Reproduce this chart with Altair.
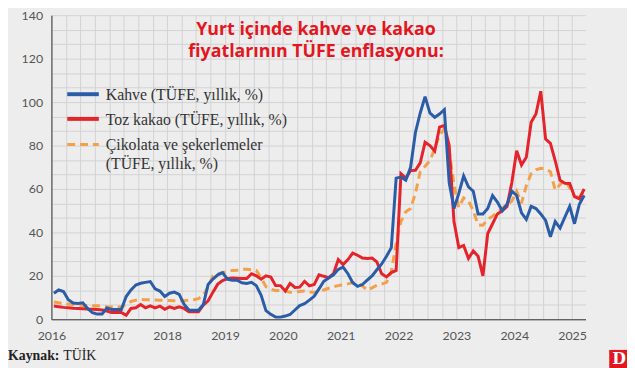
import altair as alt
import pandas as pd
import numpy as np

# Monthly series, Jan 2016 .. Mar 2025 (annual CPI change, %)
kahve = [
    12, 13.5, 12.8, 9, 7.5, 7.3, 7.6, 5, 3, 2.4,
    2.4, 5.2, 4.5, 4.5, 4.5, 10.5, 13.5, 15.8, 16.6, 17,
    17.4, 14, 13, 10.5, 12, 12.5, 11.5, 7, 4.3, 4.2,
    4.2, 6.8, 16, 18.5, 20.5, 21.5, 18.5, 18, 18, 16.8,
    16.5, 17, 15.5, 11, 4, 2.3, 1, 1, 1.5, 2.2,
    4.3, 6.3, 7.2, 8.8, 10.6, 14, 17.5, 19, 20.5, 23,
    24, 21, 16.8, 15.2, 16, 18, 20, 22.8, 25.5, 29,
    33, 65, 65.5, 64, 70, 86, 95, 102.5, 95, 93,
    94.5, 96.5, 63, 51, 58, 66, 61, 59, 48.5, 48.5,
    51, 57, 54, 50, 53, 59, 57, 49, 46, 52,
    51, 48.5, 45.5, 38, 45, 42, 47, 52, 44, 53, 57,
]
toz_kakao = [
    6.1, 5.8, 5.5, 5.3, 5.1, 5, 4.9, 4.7, 4.6, 4.5,
    4.3, 3.8, 3.1, 3.1, 3.1, 1.8, 5, 5.3, 6.8, 5.3,
    6.2, 5.3, 6.1, 4.6, 5.7, 5, 5.7, 5, 3.5, 3.5,
    3.5, 6.5, 8.5, 12.5, 16.2, 17.8, 18.7, 19, 18.9, 18.8,
    18.8, 21, 20, 18.5, 20, 19.5, 15.5, 15.5, 13, 16.5,
    14.7, 14.8, 17.5, 15.4, 16, 20.5, 19.8, 19.2, 21, 27.5,
    25.2, 27.5, 30.5, 29.5, 28.2, 28, 28.2, 26.4, 21, 19.5,
    21.5, 22.5, 67, 65, 68.5, 68.6, 72, 81.5, 80, 77.5,
    88.5, 89.3, 80, 45, 33, 34, 28, 31.5, 29, 20,
    39.5, 44, 48.5, 50, 52, 63, 77.6, 71, 74.6, 90.7,
    94.5, 105, 83, 81, 73, 64, 62.6, 62.5, 56.5, 55.5, 60,
]
cikolata = [
    8, 7.6, 7.3, 7, 6.8, 6.6, 6.4, 6.3, 6.2, 6.2,
    6, 5.8, 5.7, 5.7, 5.8, 6.8, 8.2, 8.8, 9.1, 9,
    9, 8.9, 8.8, 8.7, 8.7, 8.5, 8.4, 8.6, 8.8, 9,
    9.5, 11, 15, 19.9, 21, 21.5, 21.9, 22.5, 22.6, 23,
    23, 22.8, 22.5, 19, 15, 13.8, 13.2, 13.3, 13, 12.4,
    12.5, 12.8, 13, 12.6, 12.4, 13, 13.5, 14.3, 15, 15.5,
    16, 16.3, 16.9, 16.5, 15.4, 13.4, 14.5, 15.7, 16.2, 17,
    22, 35, 45, 49.5, 51, 58, 68, 70.5, 73, 78.5,
    85, 87.5, 77.6, 62, 51.5, 55.9, 54.5, 50, 43.5, 43.3,
    46, 47.5, 49.3, 51, 53, 54.4, 59, 53.5, 61.5, 67,
    68.8, 69.5, 69.3, 68, 59.5, 62, 64, 60.5, 56.6, 56.2, 57.5,
]
series_names = ["Kahve (TÜFE, yıllık, %)", "Toz kakao (TÜFE, yıllık, %)",
                "Çikolata ve şekerlemeler", "(TÜFE, yıllık, %)"]
year_ticks = list(range(2016, 2026))
y_ticks = list(range(0, 141, 20))
title_lines = ["Yurt içinde kahve ve kakao", "fiyatlarının TÜFE enflasyonu:"]
source_bold = "Kaynak:"
source_text = "TÜİK"

n = len(kahve)
t = [2016 + (i + 0.5) / 12 for i in range(n)]

W, H = 541, 308
PX_PER_YEAR = 58.6
x_scale = alt.Scale(domain=[2016, 2016 + W / PX_PER_YEAR], nice=False, zero=False)
y_scale = alt.Scale(domain=[0, 140], nice=False, zero=False)

# graph-paper grid: quarter-year and 20/3-unit steps; labels only on years / multiples of 20
x_grid_vals = [year_ticks[0] + k * 0.25 for k in range(4 * (year_ticks[-1] - year_ticks[0]) + 1)]
y_grid_vals = [round(k * 20 / 3, 6) for k in range(3 * 7 + 1)]
GRID = "#d2d2d2"

x_axis = alt.Axis(values=x_grid_vals, title=None, grid=True, gridColor=GRID, gridWidth=1,
                  ticks=False, labelExpr="datum.value % 1 == 0 ? '' + datum.value : ''",
                  labelPadding=10, labelFontSize=12.5, labelFont="Lato", labelColor="#555555",
                  domainColor="#333333", domainWidth=1, labelFlush=False)
y_axis = alt.Axis(values=y_grid_vals, title=None, grid=True, gridColor=GRID, gridWidth=1,
                  ticks=False,
                  labelExpr="(datum.value % 20 < 0.01 || datum.value % 20 > 19.99) ? '' + round(datum.value) : ''",
                  labelPadding=9, labelFontSize=12.5, labelFont="Lato", labelColor="#555555",
                  domainColor="#333333", domainWidth=1)

def line(values, color, dash=None):
    df = pd.DataFrame({"t": t, "v": values})
    kw = dict(color=color, strokeWidth=3, strokeJoin="miter", strokeMiterLimit=3)
    if dash:
        kw["strokeDash"] = dash
    return alt.Chart(df).mark_line(**kw).encode(
        x=alt.X("t:Q", scale=x_scale, axis=x_axis),
        y=alt.Y("v:Q", scale=y_scale, axis=y_axis))

BLUE, RED, ORANGE = "#2b5ca8", "#e4232b", "#f3a04a"
l_cik = line(cikolata, ORANGE, [8, 5])
l_toz = line(toz_kakao, RED)
l_kah = line(kahve, BLUE)

def vtext(txt, x, y, size, color, font, weight="normal", align="left"):
    return alt.Chart(pd.DataFrame({"a": [0]})).mark_text(
        text=txt, fontSize=size, color=color, font=font, fontWeight=weight,
        align=align, baseline="middle").encode(x=alt.value(x), y=alt.value(y))

def vrule(x1, x2, y, color, width, dash=None):
    kw = dict(color=color, strokeWidth=width)
    if dash:
        kw["strokeDash"] = dash
    return alt.Chart(pd.DataFrame({"a": [0]})).mark_rule(**kw).encode(
        x=alt.value(x1), x2=alt.value(x2), y=alt.value(y))

LEG_FONT = "Liberation Serif"
LEG_SIZE = 16
legend = [
    vrule(16, 48, 80, BLUE, 4), vtext(series_names[0], 55, 81, LEG_SIZE, "#333333", LEG_FONT),
    vrule(16, 48, 105, RED, 4), vtext(series_names[1], 55, 106, LEG_SIZE, "#333333", LEG_FONT),
    vrule(16, 48, 131, ORANGE, 3, [8, 5]), vtext(series_names[2], 55, 132, LEG_SIZE, "#333333", LEG_FONT),
    vtext(series_names[3], 55, 151, LEG_SIZE, "#333333", LEG_FONT),
]
TITLE_RED = "#e3161f"
titles = [
    vtext(title_lines[0], 268, 15, 18, TITLE_RED, "Open Sans", "bold", "center"),
    vtext(title_lines[1], 268, 37, 18, TITLE_RED, "Open Sans", "bold", "center"),
]
source = [
    vtext(source_bold, -44, 345, 14, "#222222", LEG_FONT, "bold"),
    vtext(source_text, 12, 345, 14, "#222222", LEG_FONT),
]
logo_rect = alt.Chart(pd.DataFrame({"a": [0]})).mark_rect(color=TITLE_RED).encode(
    x=alt.value(565), x2=alt.value(590), y=alt.value(339), y2=alt.value(358))
logo_txt = vtext("D", 575, 348, 16, "white", "DejaVu Serif", "bold", "center")

chart = alt.layer(l_cik, l_toz, l_kah, *legend, *titles, *source,
                  logo_rect, logo_txt).properties(
    width=W, height=H,
    padding={"left": 44, "top": 5, "right": 42, "bottom": 47},
    autosize=alt.AutoSizeParams(type="none"),
    background="#ededed",
).configure_view(stroke=None)

chart.save("out.html", embed_options={"renderer": "svg", "actions": False})
